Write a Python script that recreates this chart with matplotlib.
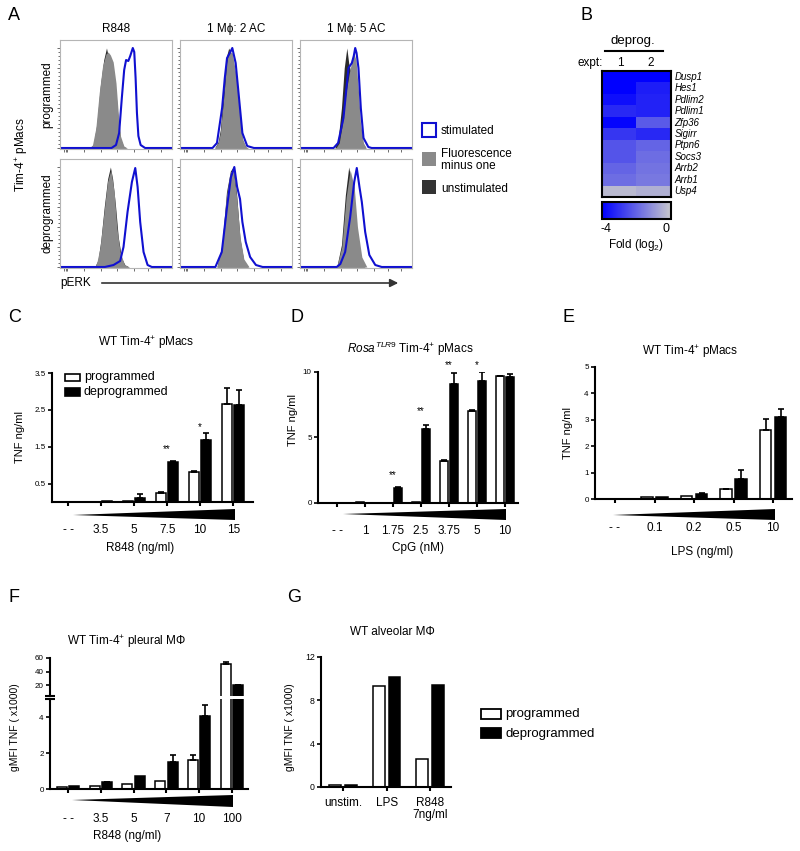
import matplotlib
matplotlib.use('Agg')
import matplotlib.pyplot as plt
import numpy as np
from matplotlib.patches import Rectangle, Polygon, FancyArrowPatch
from matplotlib.colors import LinearSegmentedColormap

plt.rcParams['font.family'] = ['Liberation Sans', 'DejaVu Sans']
plt.rcParams['mathtext.fontset'] = 'custom'
plt.rcParams['mathtext.rm'] = 'Liberation Sans'
plt.rcParams['mathtext.it'] = 'Liberation Sans:italic'

# ---- A: flow histograms, (x %, height %) ----
r848_prog_fmo = [(26, 0), (29, 3), (32, 20), (35, 55), (38, 82), (41, 94), (43, 96), (45, 93), (47.5, 86), (50, 65), (52, 35), (54, 12), (57, 2), (60, 0)]
r848_prog_unstim = [(27, 0), (30, 4), (33, 25), (36, 62), (39, 88), (41.5, 100), (43, 92), (45, 88), (47.5, 78), (50, 55), (52, 28), (54, 9), (57, 1), (60, 0)]
r848_prog_stim = [(46, 0), (50, 3), (52.8, 15), (55.2, 50), (57.3, 78), (59, 88), (61, 87), (62.7, 92), (65, 100), (66.3, 96), (67.5, 70), (68.7, 35), (70, 12), (72, 3), (76, 0)]
ac2_prog_fmo = [(31, 0), (34, 5), (36, 15), (39, 50), (41.6, 85), (43.7, 97), (46.7, 95), (49.7, 75), (52.7, 40), (55.7, 10), (58.7, 1), (61, 0)]
ac2_prog_unstim = [(31, 0), (34, 6), (36, 18), (39, 58), (41.6, 92), (43.5, 100), (46, 93), (49.7, 72), (52.7, 35), (55.7, 8), (58.7, 1), (61, 0)]
ac2_prog_stim = [(29, 0), (33, 5), (37.6, 40), (40, 70), (42, 90), (44.5, 95), (46.7, 100), (49.7, 85), (52.7, 50), (55.7, 15), (60, 2), (66, 0)]
ac5_prog_fmo = [(32, 0), (35, 5), (38, 25), (41, 55), (44, 75), (46.5, 88), (48, 95), (50, 88), (52, 60), (54, 25), (56.7, 5), (59, 0)]
ac5_prog_unstim = [(31, 0), (34, 8), (37, 40), (39.5, 80), (41.8, 100), (43.5, 85), (45.5, 75), (48, 80), (50.5, 60), (53, 25), (56, 5), (59, 0)]
ac5_prog_stim = [(30, 0), (34, 5), (38.8, 30), (41.5, 60), (43.3, 80), (46.3, 85), (48, 92), (49.3, 100), (50.5, 95), (52.2, 80), (54.3, 40), (56.7, 10), (61, 1), (64, 0)]
r848_dep_fmo = [(31, 0), (33, 5), (35.8, 20), (38.8, 50), (42.4, 85), (45.4, 97), (48.4, 75), (50.7, 40), (53.7, 15), (57.3, 3), (61, 0)]
r848_dep_unstim = [(31, 0), (34, 7), (36.5, 27), (39.5, 60), (42.5, 88), (45, 100), (47, 88), (49.5, 62), (52, 30), (55, 9), (58, 2), (62, 0)]
r848_dep_stim = [(40, 0), (47.8, 2), (53.7, 6), (56.7, 20), (60.3, 55), (64.2, 85), (67.2, 99), (69.3, 80), (71.6, 45), (74.6, 15), (78.2, 2), (82, 0)]
ac2_dep_fmo = [(33, 0), (37.3, 20), (41.3, 70), (45, 95), (47.6, 97), (50.6, 70), (53.6, 30), (57, 8), (61.7, 0)]
ac2_dep_unstim = [(33, 0), (37.5, 22), (41.5, 75), (45, 96), (47.6, 100), (50.6, 72), (53.6, 28), (57, 6), (61, 0)]
ac2_dep_stim = [(31.6, 0), (37.3, 15), (42, 60), (45.5, 90), (48.5, 100), (51, 80), (53.6, 68), (55.7, 45), (58.7, 25), (62.6, 10), (67.8, 2), (73.8, 0)]
ac5_dep_fmo = [(32.8, 0), (37.3, 20), (41.2, 70), (44.8, 97), (48.4, 80), (51.3, 40), (55.2, 10), (59.7, 0)]
ac5_dep_unstim = [(32.8, 0), (37, 22), (40.5, 72), (43.5, 100), (47, 78), (50.5, 40), (54, 10), (58, 0)]
ac5_dep_stim = [(32.8, 0), (36, 3), (40.3, 15), (44.8, 50), (48.4, 85), (50.7, 99), (53.1, 80), (55.2, 65), (58.2, 35), (61.9, 12), (67.2, 2), (73, 0)]

hist_cols = ['R848', '1 M\u03d5: 2 AC', '1 M\u03d5: 5 AC']
hist_rows = ['programmed', 'deprogrammed']

# ---- B: heatmap, log2 fold ----
genes = ['Dusp1', 'Hes1', 'Pdlim2', 'Pdlim1', 'Zfp36', 'Sigirr', 'Ptpn6', 'Socs3', 'Arrb2', 'Arrb1', 'Usp4']
fold_expt1 = [-4.0, -4.0, -3.7, -3.2, -3.9, -2.9, -2.3, -2.3, -2.0, -1.8, -0.3]
fold_expt2 = [-4.0, -3.4, -3.3, -3.3, -2.2, -3.2, -2.0, -1.8, -1.7, -1.6, -0.5]

# ---- C ----
c_labels = ['- -', '3.5', '5', '7.5', '10', '15']
c_prog = [0, 0.01, 0.03, 0.25, 0.82, 2.67]
c_prog_err = [0, 0, 0, 0.03, 0.02, 0.43]
c_deprog = [0, 0.02, 0.1, 1.08, 1.67, 2.62]
c_deprog_err = [0, 0, 0.12, 0.02, 0.2, 0.43]
c_star_idx = [3, 4]
c_star_txt = ['**', '*']
c_star_y = [1.43, 2.03]

# ---- D ----
d_labels = ['- -', '1', '1.75', '2.5', '3.75', '5', '10']
d_prog = [0, 0.05, 0.02, 0.1, 3.2, 7.0, 9.67]
d_prog_err = [0, 0, 0, 0, 0.08, 0.1, 0.04]
d_deprog = [0, 0, 1.15, 5.67, 9.1, 9.3, 9.62]
d_deprog_err = [0, 0, 0.1, 0.3, 0.8, 0.7, 0.2]
d_star_idx = [2, 3, 4, 5]
d_star_txt = ['**', '**', '**', '*']
d_star_y = [2.1, 7.0, 10.5, 10.5]

# ---- E ----
e_labels = ['- -', '0.1', '0.2', '0.5', '10']
e_prog = [0, 0.06, 0.13, 0.36, 2.62]
e_prog_err = [0, 0, 0, 0.02, 0.4]
e_deprog = [0, 0.06, 0.19, 0.76, 3.1]
e_deprog_err = [0, 0, 0.02, 0.35, 0.3]

# ---- F ----
f_labels = ['- -', '3.5', '5', '7', '10', '100']
f_prog = [0.1, 0.15, 0.27, 0.45, 1.6, 51]
f_prog_err = [0, 0, 0, 0, 0.3, 3]
f_deprog = [0.15, 0.37, 0.72, 1.5, 4.05, 19.5]
f_deprog_err = [0, 0.02, 0, 0.37, 0.6, 1]

# ---- G ----
g_labels = ['unstim.', 'LPS', 'R848\n7ng/ml']
g_prog = [0.2, 9.3, 2.6]
g_deprog = [0.2, 10.2, 9.4]

W, H = 800, 851
fig = plt.figure(figsize=(W / 100, H / 100), dpi=100)


def fx(x):
    return x / W


def fy(y):
    return 1 - y / H


def px_axes(x0, y0, x1, y1):
    return fig.add_axes([fx(x0), fy(y1), (x1 - x0) / W, (y1 - y0) / H])


def ptext(x, y, s, size=8.5, ha='center', va='center', **kw):
    fig.text(fx(x), fy(y), s, fontsize=size, ha=ha, va=va, **kw)


def prect(x0, y0, x1, y1, **kw):
    fig.add_artist(Rectangle((fx(x0), fy(y1)), (x1 - x0) / W, (y1 - y0) / H,
                             transform=fig.transFigure, **kw))


def ramp(x0, x1, ytip, ytop, ybot):
    fig.add_artist(Polygon([(fx(x0), fy(ytip)), (fx(x1), fy(ytop)), (fx(x1), fy(ybot))],
                           closed=True, transform=fig.transFigure, color='black', lw=0))


# ================= A =================
hist_sets = [[r848_prog_fmo, r848_prog_unstim, r848_prog_stim],
             [ac2_prog_fmo, ac2_prog_unstim, ac2_prog_stim],
             [ac5_prog_fmo, ac5_prog_unstim, ac5_prog_stim],
             [r848_dep_fmo, r848_dep_unstim, r848_dep_stim],
             [ac2_dep_fmo, ac2_dep_unstim, ac2_dep_stim],
             [ac5_dep_fmo, ac5_dep_unstim, ac5_dep_stim]]
col_x = [(60, 172), (180, 292), (300, 412)]
row_y = [(40, 149), (159, 268)]
for k, curves in enumerate(hist_sets):
    r, c = divmod(k, 3)
    ax = px_axes(col_x[c][0], row_y[r][0], col_x[c][1], row_y[r][1])
    fmo, unstim, stim = [np.array([(0, 0)] + cv + [(100, 0)]) for cv in curves]
    ax.fill_between(unstim[:, 0], unstim[:, 1], color='#2a2a2a', lw=0)
    ax.fill_between(fmo[:, 0], fmo[:, 1], color='#8a8a8a', lw=0)
    ax.plot(stim[:, 0], stim[:, 1], color='#1010d0', lw=1.5)
    ax.set_xlim(0, 100)
    ax.set_ylim(-1, 108)
    for s in ax.spines.values():
        s.set_color('#b5b5b5')
        s.set_linewidth(0.8)
    ax.set_yticks([0, 20, 40, 60, 80, 100])
    ax.set_yticks(np.arange(0, 104, 4), minor=True)
    ax.set_xticks([4, 5, 6, 21, 37, 51, 66, 79, 90])
    ax.tick_params(which='both', labelleft=False, labelbottom=False, color='#555555', width=0.6)
    ax.tick_params(which='major', length=2.5)
    ax.tick_params(which='minor', length=1.2)

ptext(8, 15, 'A', size=13, ha='left')
for c, t in enumerate(hist_cols):
    ptext((col_x[c][0] + col_x[c][1]) / 2, 29, t, size=8.5)
ptext(47, 95, hist_rows[0], size=8.5, rotation=90)
ptext(47, 213, hist_rows[1], size=8.5, rotation=90)
ptext(22, 155, 'Tim-4$^{+}$ pMacs', size=8.5, rotation=90)
ptext(60, 283, 'pERK', size=8.5, ha='left')
fig.add_artist(FancyArrowPatch((fx(99), fy(283)), (fx(401), fy(283)), transform=fig.transFigure,
                               arrowstyle='-|>', mutation_scale=12, lw=1.2, color='#333333'))
prect(422, 123, 436, 137, facecolor='white', edgecolor='#1010d0', lw=1.5)
prect(422, 152, 436, 166, facecolor='#8a8a8a', edgecolor='none')
prect(422, 180, 436, 194, facecolor='#333333', edgecolor='none')
ptext(441, 131, 'stimulated', ha='left')
ptext(441, 160, 'Fluorescence\nminus one', ha='left', linespacing=1.0)
ptext(441, 189, 'unstimulated', ha='left')

# ================= B =================
ptext(580, 15, 'B', size=13, ha='left')
ptext(633, 41, 'deprog.', size=9.5)
fig.add_artist(plt.Line2D([fx(605), fx(663)], [fy(51), fy(51)], transform=fig.transFigure, color='black', lw=1.5))
ptext(603, 63, 'expt:', size=8.5, ha='right')
ptext(620, 63, '1', size=8.5)
ptext(651, 63, '2', size=8.5)
cmap = LinearSegmentedColormap.from_list('bg', ['#0000ff', '#c8c8cc'])
axh = px_axes(602, 71, 671, 197)
im = axh.imshow(np.column_stack([fold_expt1, fold_expt2]), cmap=cmap, vmin=-4, vmax=0,
                aspect='auto', interpolation='nearest')
axh.set_xticks([])
axh.set_yticks([])
for s in axh.spines.values():
    s.set_linewidth(1.5)
for i, g in enumerate(genes):
    axh.text(1.6, i, g, fontsize=7, style='italic', ha='left', va='center')
cax = px_axes(602, 202, 671, 219)
cb = fig.colorbar(im, cax=cax, orientation='horizontal')
cb.set_ticks([])
cb.outline.set_linewidth(1.5)
ptext(606, 229, '-4', size=9)
ptext(666, 229, '0', size=9)
ptext(636, 245, 'Fold (log$_2$)', size=8.5)


# ================= bar helpers =================
def bar_panel(ax, labels, prog, prog_err, deprog, deprog_err, off, width, xlim, ylim, pad):
    x = np.arange(len(labels))
    span = ylim[1] - ylim[0]
    # on a cut-off axis segment, skip bars that end at its floor
    floor = ylim[0] + 0.05 * span if ylim[0] > 0 else -1
    for xs, m, e, fc in [(x - off, prog, prog_err, 'white'), (x + off, deprog, deprog_err, 'black')]:
        m = np.asarray(m, float)
        vis = m > floor
        ax.bar(xs[vis], m[vis], width, color=fc, edgecolor='black', linewidth=1.1, zorder=2)
        if e is None:
            continue
        e = np.asarray(e, float)
        keep = (e > 0) & (m < ylim[1]) & vis
        if keep.any():
            ax.errorbar(xs[keep], m[keep], yerr=[np.zeros(keep.sum()), e[keep]], fmt='none',
                        ecolor='black', elinewidth=1.2, capsize=2.5, capthick=1.2, zorder=3)
    ax.set_xlim(*xlim)
    ax.set_ylim(*ylim)
    ax.set_xticks(x)
    ax.set_xticklabels(labels, fontsize=8.5)
    ax.tick_params(axis='x', length=3, width=1.5, pad=pad)
    ax.tick_params(axis='y', length=3, width=1.2, labelsize=5.8, pad=1.5)
    for s in ['top', 'right']:
        ax.spines[s].set_visible(False)
    for s in ['left', 'bottom']:
        ax.spines[s].set_linewidth(1.5)
    ax.patch.set_alpha(0)


def stars(ax, idx, txt, ys):
    for i, t, yv in zip(idx, txt, ys):
        ax.text(i, yv, t, fontsize=7, ha='center', va='center', clip_on=False)


# ================= C =================
ptext(8, 317, 'C', size=13, ha='left')
ptext(146, 343, 'WT Tim-4$^{+}$ pMacs', size=8.5)
axc = px_axes(52, 373, 253, 502)
bar_panel(axc, c_labels, c_prog, c_prog_err, c_deprog, c_deprog_err, 0.175, 0.3,
          (-0.485, 5.6), (0, 3.5), 13)
axc.set_yticks([0.5, 1.5, 2.5, 3.5])
axc.set_yticklabels(['0.5', '1.5', '2.5', '3.5'])
stars(axc, c_star_idx, c_star_txt, c_star_y)
ramp(73, 235, 515, 509, 520)
ptext(140, 548, 'R848 (ng/ml)', size=8.5)
ptext(20, 437, 'TNF ng/ml', size=8, rotation=90)
prect(65, 374, 80, 381, facecolor='white', edgecolor='black', lw=1.2)
prect(65, 388, 80, 396, facecolor='black', edgecolor='black', lw=1.2)
ptext(84, 377, 'programmed', size=9, ha='left')
ptext(84, 392, 'deprogrammed', size=9, ha='left')

# ================= D =================
ptext(290, 317, 'D', size=13, ha='left')
ptext(410, 349, r'$\it{Rosa}^{\it{TLR9}}$ Tim-4$^{+}$ pMacs', size=8.5)
axd = px_axes(318, 372, 518, 503)
bar_panel(axd, d_labels, d_prog, d_prog_err, d_deprog, d_deprog_err, 0.19, 0.29,
          (-0.68, 6.46), (0, 10), 12.5)
axd.set_yticks([0, 5, 10])
stars(axd, d_star_idx, d_star_txt, d_star_y)
ramp(343, 506, 514, 509, 520)
ptext(418, 548, 'CpG (nM)', size=8.5)
ptext(293, 420, 'TNF ng/ml', size=8, rotation=90)

# ================= E =================
ptext(562, 317, 'E', size=13, ha='left')
ptext(690, 352, 'WT Tim-4$^{+}$ pMacs', size=8.5)
axe = px_axes(595, 367, 792, 499)
bar_panel(axe, e_labels, e_prog, e_prog_err, e_deprog, e_deprog_err, 0.19, 0.28,
          (-0.506, 4.48), (0, 5), 13.5)
axe.set_yticks([0, 1, 2, 3, 4, 5])
ramp(613, 775, 515, 509, 520)
ptext(702, 552, 'LPS (ng/ml)', size=8.5)
ptext(568, 433, 'TNF ng/ml', size=8, rotation=90)

# ================= F =================
ptext(8, 597, 'F', size=13, ha='left')
ptext(127, 642, 'WT Tim-4$^{+}$ pleural M\u03a6', size=8.5)
axf = px_axes(50, 699, 248, 789)
bar_panel(axf, f_labels, f_prog, f_prog_err, f_deprog, f_deprog_err, 0.19, 0.3,
          (-0.55, 5.49), (0, 5.0), 14.5)
axf.set_yticks([0, 2, 4])
axf2 = px_axes(50, 658, 248, 696)
bar_panel(axf2, f_labels, f_prog, f_prog_err, f_deprog, f_deprog_err, 0.19, 0.3,
          (-0.55, 5.49), (4, 60), 0)
axf2.set_yticks([20, 40, 60])
axf2.spines['bottom'].set_visible(False)
axf2.tick_params(axis='x', bottom=False, labelbottom=False)
axf.plot([0], [1], marker='_', ms=7, mew=1.5, color='black', transform=axf.transAxes, clip_on=False)
axf2.plot([0], [0], marker='_', ms=7, mew=1.5, color='black', transform=axf2.transAxes, clip_on=False)
ramp(72, 233, 800, 795, 807)
ptext(127, 836, 'R848 (ng/ml)', size=8.5)
ptext(15, 727, 'gMFI TNF ( x1000)', size=7.5, rotation=90)

# ================= G =================
ptext(287, 597, 'G', size=13, ha='left')
ptext(392, 632, 'WT alveolar M\u03a6', size=8.5)
axg = px_axes(321, 657, 451, 787)
bar_panel(axg, g_labels, g_prog, None, g_deprog, None, 0.18, 0.27,
          (-0.506, 2.48), (0, 12), 4.5)
axg.set_yticks([0, 4, 8, 12])
axg.tick_params(axis='y', labelsize=6.3)
for lab in axg.get_xticklabels():
    lab.set_linespacing(1.0)
ptext(290, 727, 'gMFI TNF ( x1000)', size=7.5, rotation=90)
prect(481, 709, 501, 719, facecolor='white', edgecolor='black', lw=1.3)
prect(481, 728, 501, 738, facecolor='black', edgecolor='black', lw=1.3)
ptext(505, 714, 'programmed', size=9.5, ha='left')
ptext(505, 734, 'deprogrammed', size=9.5, ha='left')

fig.savefig('out.png', dpi=100)
